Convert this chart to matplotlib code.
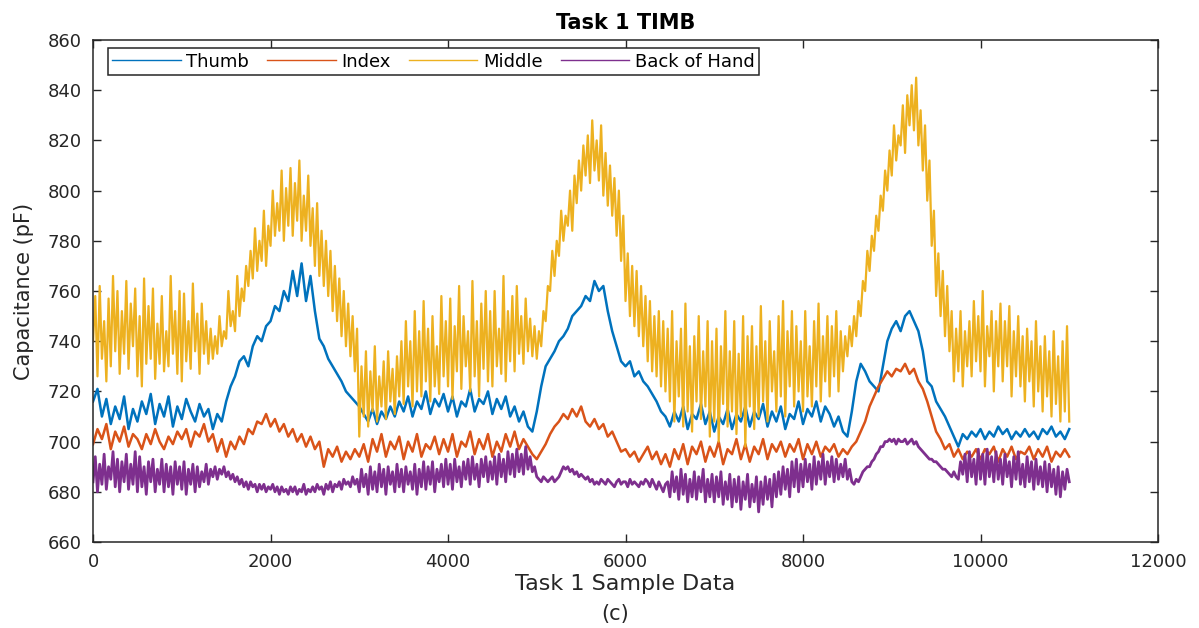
# Task 1 TIMB capacitance traces (thumb / index / middle / back of hand)

import numpy as np
import matplotlib
matplotlib.use('Agg')
import matplotlib.pyplot as plt

# sample index of the read-off points: every 50 samples for the smoother
# thumb/index traces, every 25 samples for the noisy middle/back traces
sample_idx_50 = np.arange(0, 11001, 50)
sample_idx_25 = np.arange(0, 11001, 25)

# values, in pF
thumb = [
    716, 721, 710, 717, 707, 714, 709, 718, 705, 713,
    708, 716, 711, 719, 707, 715, 710, 718, 706, 714,
    709, 717, 712, 708, 715, 710, 713, 705, 711, 708,
    716, 722, 726, 732, 734, 730, 738, 742, 740, 746,
    748, 754, 752, 760, 756, 768, 758, 771, 756, 766,
    752, 741, 738, 733, 730, 727, 724, 720, 718, 716,
    714, 711, 708, 713, 707, 712, 709, 714, 710, 716,
    712, 718, 710, 716, 713, 720, 711, 717, 714, 719,
    712, 718, 710, 716, 714, 721, 712, 717, 715, 720,
    711, 717, 713, 718, 710, 714, 708, 712, 706, 704,
    712, 722, 730, 733, 736, 740, 742, 745, 750, 752,
    754, 758, 756, 764, 760, 762, 752, 744, 738, 732,
    730, 732, 726, 728, 724, 722, 719, 716, 712, 710,
    706, 712, 708, 714, 705, 711, 709, 715, 707, 712,
    704, 710, 707, 713, 705, 711, 708, 714, 706, 712,
    709, 715, 706, 712, 708, 714, 705, 711, 709, 716,
    707, 713, 710, 716, 708, 714, 711, 706, 710, 704,
    702, 712, 724, 731, 728, 724, 722, 720, 730, 740,
    745, 748, 744, 750, 752, 748, 744, 736, 724, 722,
    716, 713, 710, 706, 702, 698, 703, 701, 704, 702,
    705, 701, 704, 702, 706, 703, 705, 701, 704, 702,
    705, 702, 704, 701, 705, 703, 706, 702, 704, 701,
    705,
]

index = [
    699, 705, 701, 707, 697, 704, 700, 706, 698, 703,
    701, 697, 703, 699, 705, 700, 697, 702, 699, 704,
    701, 705, 698, 704, 702, 707, 700, 703, 696, 701,
    694, 700, 697, 702, 699, 705, 703, 708, 707, 711,
    706, 709, 704, 707, 702, 705, 700, 703, 698, 702,
    697, 700, 690, 697, 694, 698, 692, 696, 693, 697,
    694, 699, 692, 701, 696, 703, 694, 700, 697, 702,
    693, 700, 696, 703, 694, 699, 697, 702, 695, 701,
    696, 703, 694, 700, 698, 704, 695, 701, 697, 703,
    694, 700, 696, 703, 698, 704, 697, 701, 698, 695,
    693, 696, 699, 703, 706, 708, 711, 709, 713, 710,
    714, 708, 706, 709, 705, 707, 702, 704, 700, 696,
    697, 694, 696, 692, 695, 698, 693, 696, 691, 695,
    690, 697, 693, 699, 691, 698, 695, 700, 692, 698,
    694, 700, 691, 697, 695, 701, 693, 699, 692, 698,
    695, 701, 693, 699, 696, 700, 694, 699, 696, 701,
    693, 699, 695, 700, 694, 698, 696, 699, 694, 697,
    695, 698, 700, 704, 708, 714, 718, 722, 725, 728,
    726, 729, 728, 731, 727, 729, 724, 721, 716, 710,
    704, 701, 697, 699, 694, 697, 693, 696, 694, 697,
    693, 697, 695, 698, 692, 697, 694, 698, 693, 696,
    695, 698, 693, 697, 694, 698, 692, 696, 694, 697,
    694,
]

middle = [
    740, 758, 726, 762, 733, 748, 724, 757, 730, 766,
    736, 760, 727, 752, 735, 764, 729, 755, 738, 761,
    726, 750, 722, 765, 731, 754, 733, 761, 725, 747,
    731, 758, 728, 744, 730, 766, 735, 752, 727, 760,
    724, 759, 732, 748, 729, 763, 736, 751, 727, 755,
    735, 748, 731, 745, 733, 742, 735, 750, 738, 744,
    741, 760, 746, 752, 744, 766, 750, 761, 756, 770,
    762, 776, 765, 785, 768, 780, 772, 792, 770, 786,
    778, 800, 782, 795, 784, 808, 780, 801, 786, 809,
    782, 803, 788, 812, 780, 798, 784, 806, 778, 793,
    770, 795, 766, 784, 762, 780, 758, 776, 752, 770,
    748, 765, 742, 760, 738, 755, 734, 750, 728, 745,
    702, 730, 710, 736, 706, 728, 712, 738, 708, 726,
    714, 732, 709, 736, 716, 729, 711, 734, 718, 740,
    715, 748, 722, 740, 714, 752, 720, 744, 718, 756,
    724, 745, 716, 750, 722, 738, 719, 758, 726, 748,
    722, 757, 717, 746, 728, 762, 721, 750, 730, 744,
    720, 764, 726, 748, 718, 755, 729, 760, 724, 752,
    722, 760, 730, 745, 727, 766, 724, 752, 732, 758,
    728, 762, 735, 750, 731, 757, 736, 749, 734, 746,
    733, 744, 738, 752, 748, 762, 760, 776, 766, 780,
    774, 792, 780, 790, 786, 800, 784, 806, 795, 812,
    800, 818, 806, 822, 803, 828, 808, 820, 804, 826,
    798, 815, 794, 810, 790, 805, 782, 800, 772, 790,
    756, 775, 750, 770, 746, 768, 742, 762, 738, 758,
    732, 756, 728, 750, 726, 752, 722, 748, 720, 745,
    716, 752, 708, 740, 718, 745, 706, 755, 712, 738,
    704, 742, 716, 750, 709, 736, 714, 748, 702, 740,
    708, 745, 700, 738, 715, 752, 706, 736, 712, 748,
    703, 735, 710, 750, 698, 742, 714, 746, 705, 738,
    710, 754, 716, 740, 708, 748, 720, 736, 712, 750,
    718, 756, 710, 744, 722, 752, 714, 746, 720, 740,
    712, 752, 718, 738, 714, 748, 722, 755, 716, 742,
    724, 750, 718, 746, 726, 752, 720, 744, 728, 742,
    734, 746, 738, 750, 742, 756, 750, 764, 760, 776,
    768, 782, 776, 790, 784, 798, 792, 808, 800, 816,
    806, 826, 812, 822, 818, 834, 815, 838, 826, 842,
    824, 845, 818, 832, 808, 826, 796, 812, 778, 792,
    758, 775, 750, 768, 742, 762, 736, 752, 724, 745,
    728, 752, 722, 744, 730, 748, 726, 756, 732, 750,
    728, 760, 722, 746, 734, 752, 720, 748, 730, 755,
    724, 748, 730, 754, 718, 744, 726, 750, 722, 742,
    716, 745, 724, 740, 714, 748, 720, 738, 712, 742,
    718, 736, 710, 744, 715, 734, 708, 740, 712, 746,
    708,
]

back_of_hand = [
    684, 694, 680, 691, 683, 695, 681, 690, 685, 696,
    682, 693, 680, 692, 684, 695, 681, 691, 683, 696,
    680, 694, 682, 690, 679, 692, 684, 693, 680, 689,
    683, 693, 680, 691, 682, 690, 679, 692, 683, 690,
    681, 692, 679, 689, 683, 691, 680, 690, 682, 688,
    684, 691, 683, 689, 686, 690, 685, 689, 687, 690,
    686, 688, 685, 687, 684, 686, 683, 685, 682, 684,
    681, 684, 682, 683, 680, 683, 681, 683, 680, 682,
    681, 683, 680, 682, 679, 682, 680, 681, 679, 682,
    680, 682, 679, 681, 680, 683, 679, 681, 680, 682,
    680, 683, 681, 682, 679, 683, 681, 684, 680, 683,
    682, 684, 681, 685, 683, 684, 682, 686, 683, 685,
    680, 689, 682, 687, 679, 690, 681, 688, 680, 691,
    682, 689, 679, 690, 683, 688, 680, 691, 682, 689,
    680, 690, 683, 688, 681, 691, 679, 689, 682, 692,
    681, 690, 683, 692, 680, 689, 684, 691, 682, 693,
    683, 691, 681, 693, 684, 690, 682, 692, 685, 693,
    683, 694, 685, 691, 682, 693, 686, 694, 684, 692,
    685, 694, 683, 695, 686, 693, 684, 696, 687, 695,
    686, 697, 688, 695, 687, 698, 689, 694, 688, 690,
    686, 685, 684, 686, 685, 684, 685, 686, 684, 685,
    686, 688, 690, 689, 690, 688, 689, 687, 688, 686,
    687, 686, 685, 686, 684, 685, 683, 684, 683, 685,
    684, 683, 685, 684, 683, 682, 684, 685, 683, 684,
    684, 682, 685, 683, 684, 683, 682, 684, 683, 685,
    684, 682, 685, 683, 681, 684, 682, 680, 683, 684,
    678, 688, 680, 686, 677, 689, 679, 687, 676, 685,
    678, 688, 677, 686, 680, 689, 676, 685, 678, 687,
    676, 686, 678, 688, 675, 684, 677, 687, 674, 685,
    676, 686, 673, 684, 677, 687, 674, 683, 676, 686,
    672, 684, 675, 686, 677, 685, 674, 687, 678, 688,
    679, 690, 681, 689, 678, 692, 682, 693, 680, 691,
    682, 693, 684, 691, 681, 694, 683, 692, 685, 695,
    683, 692, 686, 694, 684, 693, 685, 691, 686, 693,
    685, 689, 684, 683, 685, 684, 686, 688, 689, 690,
    690, 692, 693, 695, 696, 698, 698, 700, 700, 701,
    700, 701, 699, 701, 700, 700, 701, 699, 700, 701,
    699, 700, 698, 697, 696, 695, 694, 693, 693, 692,
    692, 691, 690, 689, 689, 688, 687, 686, 688, 686,
    685, 692, 687, 695, 684, 696, 686, 693, 683, 697,
    685, 695, 683, 697, 686, 694, 684, 696, 685, 693,
    683, 695, 686, 692, 682, 694, 685, 696, 683, 691,
    682, 694, 684, 692, 681, 693, 683, 690, 682, 692,
    680, 691, 682, 689, 679, 690, 678, 688, 681, 689,
    684,
]

series_names = ['Thumb', 'Index', 'Middle', 'Back of Hand']
x_ticks = [0, 2000, 4000, 6000, 8000, 10000, 12000]
y_ticks = [660, 680, 700, 720, 740, 760, 780, 800, 820, 840, 860]

# MATLAB default line colours
colours = ['#0072BD', '#D95319', '#EDB120', '#7E2F8E']
line_widths = [1.8, 1.8, 1.6, 2.0]
axis_grey = '#262626'


def main():
    plt.rcParams['font.family'] = ['DejaVu Sans']

    fig = plt.figure(figsize=(11.99, 6.28), dpi=100)
    ax = fig.add_axes([0.0776, 0.1369, 0.8882, 0.7994])

    all_series = [(sample_idx_50, thumb), (sample_idx_50, index),
                  (sample_idx_25, middle), (sample_idx_25, back_of_hand)]
    for (xs, values), name, col, lw in zip(all_series, series_names,
                                           colours, line_widths):
        ax.plot(xs, values, color=col, linewidth=lw, label=name)

    ax.set_xlim(0, 12000)
    ax.set_ylim(660, 860)
    ax.set_xticks(x_ticks)
    ax.set_yticks(y_ticks)

    # MATLAB style box: ticks inside on all four sides
    ax.tick_params(direction='in', length=6, width=1, top=True, right=True,
                   labelsize=13, colors=axis_grey, pad=8)
    for side in ax.spines.values():
        side.set_color(axis_grey)
        side.set_linewidth(1.1)

    ax.set_title('Task 1 TIMB', fontsize=15, fontweight='bold', pad=8)
    ax.set_xlabel('Task 1 Sample Data', fontsize=16, color=axis_grey, labelpad=2)
    ax.set_ylabel('Capacitance (pF)', fontsize=15, color=axis_grey, labelpad=10)
    fig.text(0.513, 0.012, '(c)', fontsize=15, color=axis_grey, ha='center')

    leg = ax.legend(loc='upper left', bbox_to_anchor=(0.014, 0.984), ncol=4,
                    borderaxespad=0, fontsize=13, handlelength=3.8,
                    handletextpad=0.3, columnspacing=1.0, borderpad=0.25,
                    fancybox=False, framealpha=1, edgecolor=axis_grey)
    leg.get_frame().set_linewidth(1.1)
    for line in leg.get_lines():
        line.set_linewidth(1.0)

    fig.savefig('out.png', dpi=100)
    return 0


if __name__ == "__main__":
    main()
